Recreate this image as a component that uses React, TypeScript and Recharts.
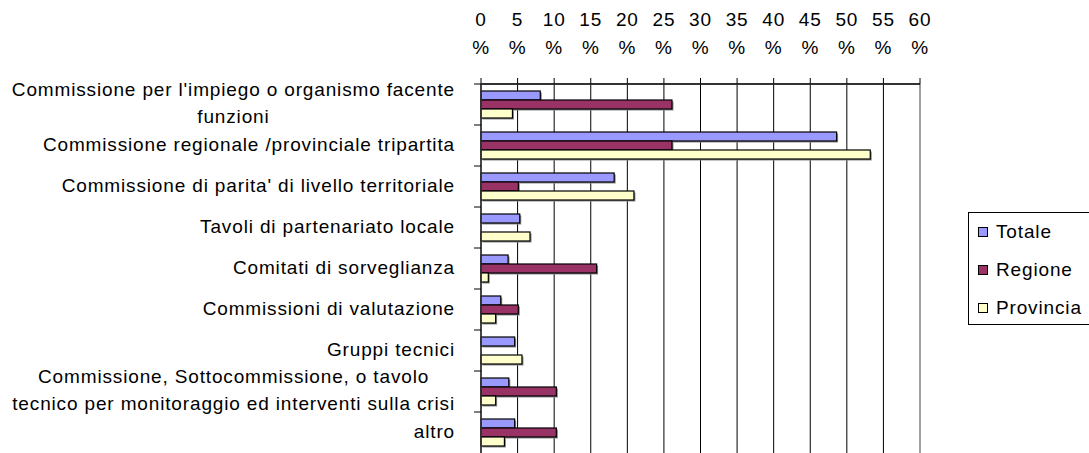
import React from 'react';
import {
  BarChart,
  Bar,
  XAxis,
  YAxis,
  CartesianGrid,
  ReferenceLine,
} from 'recharts';

const categories = [
  "Commissione per l'impiego o organismo facente\nfunzioni",
  'Commissione regionale /provinciale tripartita',
  "Commissione di parita' di livello territoriale",
  'Tavoli di partenariato locale',
  'Comitati di sorveglianza',
  'Commissioni di valutazione',
  'Gruppi tecnici',
  'Commissione, Sottocommissione, o tavolo\ntecnico per monitoraggio ed interventi sulla crisi',
  'altro',
];

const totale = [8.1, 48.6, 18.2, 5.3, 3.7, 2.7, 4.6, 3.8, 4.6];
const regione = [26.1, 26.1, 5.1, 0, 15.8, 5.1, 0, 10.3, 10.3];
const provincia = [4.3, 53.2, 20.9, 6.7, 1.0, 2.0, 5.6, 2.0, 3.2];

const percentTicks = [0, 5, 10, 15, 20, 25, 30, 35, 40, 45, 50, 55, 60];

const series = [
  { key: 'totale', name: 'Totale', color: '#9999FF' },
  { key: 'regione', name: 'Regione', color: '#993366' },
  { key: 'provincia', name: 'Provincia', color: '#FFFFCC' },
];

const data = categories.map((name, i) => ({
  name,
  totale: totale[i],
  regione: regione[i],
  provincia: provincia[i],
}));

const W = 1089;
const H = 453;
const AXIS_TOP = 84;
const Y_AXIS_W = 481;
const RIGHT = 169;
const BAND = (H - AXIS_TOP) / categories.length;

const FONT = '"Liberation Sans", Arial, sans-serif';
const FS = 19;
const LS = 0.85;

let ctx: CanvasRenderingContext2D | null = null;
function textWidth(s: string) {
  if (!ctx) ctx = document.createElement('canvas').getContext('2d');
  if (!ctx) return s.length * 9;
  ctx.font = `${FS}px "Liberation Sans"`;
  return ctx.measureText(s).width + LS * s.length;
}

function CategoryTick(props: any) {
  const { x, y, payload } = props;
  const lines = String(payload.value).split('\n');
  const w = Math.max(...lines.map(textWidth));
  const cx = x - 26 - w / 2;
  const n = lines.length;
  return (
    <g>
      <line x1={x - 7} x2={x} y1={y - BAND / 2} y2={y - BAND / 2} stroke="#000" />
      <text textAnchor="middle" fontFamily={FONT} fontSize={FS} letterSpacing={LS} fill="#000">
        {lines.map((l, i) => (
          <tspan key={i} x={cx} y={y + 5 + (i - (n - 1) / 2) * 27}>
            {l}
          </tspan>
        ))}
      </text>
    </g>
  );
}

function PercentTick(props: any) {
  const { x, y, payload } = props;
  return (
    <text textAnchor="middle" fontFamily={FONT} fontSize={FS} letterSpacing={LS} fill="#000">
      <tspan x={x} y={y - 50}>{payload.value}</tspan>
      <tspan x={x} y={y - 22}>%</tspan>
    </text>
  );
}

function ShadowBar(props: any) {
  const { x, y, width, height, fill } = props;
  if (!width || width <= 0.5) return null;
  return (
    <g>
      <rect x={x + 1.5} y={y + 1.5} width={width} height={height} fill="#8a8a8a" />
      <rect x={x} y={y} width={width} height={height} fill={fill} stroke="#000" strokeWidth={1.2} />
    </g>
  );
}

function LegendBox() {
  return (
    <div
      style={{
        position: 'absolute',
        left: 968,
        top: 212,
        border: '1px solid #000',
        background: '#fff',
        width: 140,
        height: 113,
        boxSizing: 'border-box',
        fontFamily: FONT,
        fontSize: FS,
        letterSpacing: LS,
      }}
    >
      {series.map((s) => (
        <div key={s.key} style={{ display: 'flex', alignItems: 'center', height: 38 }}>
          <span
            style={{
              width: 10,
              height: 10,
              boxSizing: 'border-box',
              border: '1px solid #000',
              background: s.color,
              marginLeft: 9,
              marginRight: 8,
            }}
          />
          <span>{s.name}</span>
        </div>
      ))}
    </div>
  );
}

export default function App() {
  return (
    <div style={{ position: 'absolute', left: 0, top: 0, width: W, height: H, overflow: 'hidden', background: '#fff' }}>
      <BarChart
        width={W}
        height={H}
        data={data}
        layout="vertical"
        margin={{ top: 0, right: RIGHT, bottom: 0, left: 0 }}
        barSize={9}
        barGap={0}
      >
        <CartesianGrid horizontal={false} stroke="#000" />
        <XAxis
          type="number"
          orientation="top"
          domain={[0, 60]}
          ticks={percentTicks}
          interval={0}
          height={AXIS_TOP}
          tick={<PercentTick />}
          tickSize={6}
          tickLine={{ stroke: '#000' }}
          axisLine={{ stroke: '#333', strokeWidth: 2 }}
        />
        <YAxis
          type="category"
          dataKey="name"
          width={Y_AXIS_W}
          interval={0}
          tick={<CategoryTick />}
          tickLine={false}
          tickSize={0}
          tickMargin={0}
          axisLine={{ stroke: '#333', strokeWidth: 1.5 }}
        />
        <ReferenceLine x={60} stroke="#a0a0a0" strokeWidth={2} />
        {series.map((s) => (
          <Bar
            key={s.key}
            dataKey={s.key}
            name={s.name}
            fill={s.color}
            shape={<ShadowBar />}
            isAnimationActive={false}
          />
        ))}
      </BarChart>
      <LegendBox />
    </div>
  );
}
